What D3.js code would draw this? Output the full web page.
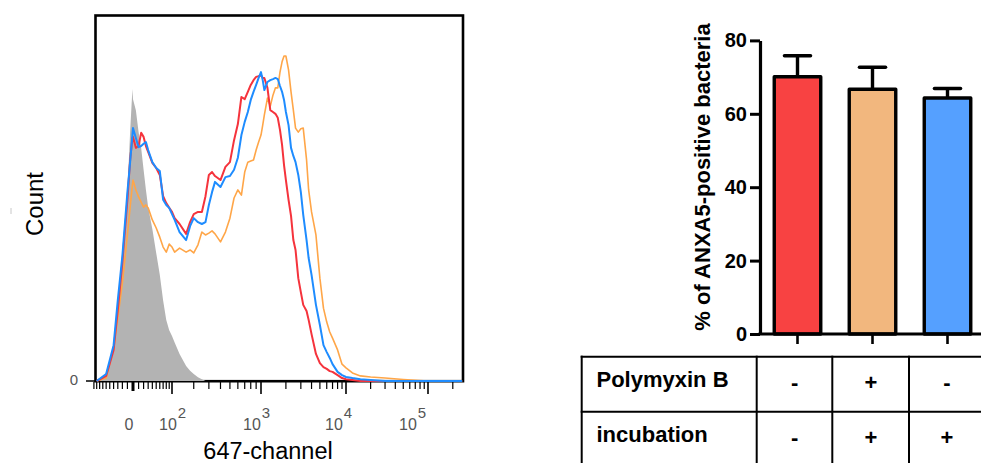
<!DOCTYPE html>
<html><head><meta charset="utf-8">
<script src="https://cdn.jsdelivr.net/npm/d3@7"></script>
<style>
body{margin:0;background:#fff}
svg{display:block}
text{font-family:"Liberation Sans",Arial,Helvetica,sans-serif}
</style>
</head><body>
<svg id="chart" width="981" height="463"></svg>
<script>
// ---------- DATA: flow cytometry histogram (647-channel) ----------
const fluor = [-90,-60,-40,-30,-20,-10,-5,-1,0,5,10,15,20,25,30,40,50,60,70,80,90,100,110,130,160,180,200,225,250,275,300,325,350,400,450,500,550,600,650,700,750,800,850,900,950,1000,1050,1100,1200,1300,1400,1500,1600,1700,1800,1900,2000,2150,2300,2450,2600,2800,3000,3200,3500,3700,4000,4500,5000,5500,6000,6500,7000,8000,9000,10000,12000,15000,20000,30000,50000,100000,200000,260000];
const grayCounts = [0,1.2,8,20,33,52,68,79.8,77,74,68,63.7,57.7,52.2,47.5,41.5,35,29,22,16.7,13.9,12.3,10.5,7.4,4.1,2.8,1.9,1.0,0.5,0,0,0,0,0,0,0,0,0,0,0,0,0,0,0,0,0,0,0,0,0,0,0,0,0,0,0,0,0,0,0,0,0,0,0,0,0,0,0,0,0,0,0,0,0,0,0,0,0,0,0,0,0,0,0];
const redCounts = [0,1.4,8.5,19.4,32.5,49.5,60.4,66.4,66.7,63.7,64.2,67.8,66.7,64.2,62.6,59.6,58.2,56.3,50.5,48.6,47.3,46.2,44.5,42.9,40.2,43.4,45.6,46.2,46.2,50.5,56.3,57.1,56.0,54.9,58.5,59.8,65.8,70.2,77.6,77.0,79.0,80.9,82.2,83.1,83.3,83.6,82.8,82.8,80.1,74.0,73.5,73.0,71.9,68.6,64.5,59.0,54.9,49.5,45.1,38.5,35.8,28.1,24.3,20.8,19.1,16.7,12.8,7.4,4.9,3.8,3.3,2.7,2.5,1.6,0.8,0.5,0.3,0,0,0,0,0,0,0];
const blueCounts = [0,1.9,9.8,22.1,34.2,51.6,59.8,67.2,69.1,66.4,63.9,64.2,64.8,65.3,63.1,59.8,58.2,57.4,49.5,48.1,47.3,45.6,44.0,40.7,38.5,42.3,44.5,43.4,42.9,43.4,48.1,51.6,54.4,53.0,55.7,56.0,57.7,61.0,67.2,70.8,73.5,76.8,79.0,80.9,82.8,84.4,82.2,79.5,81.7,82.2,82.5,82.8,82.5,80.6,79.0,76.8,73.5,69.9,63.7,61.5,59.8,56.3,51.6,45.4,38.5,33.6,29.0,20.8,15.3,9.8,7.9,6.3,4.6,2.5,1.6,1.1,0.8,0.5,0.3,0,0,0,0,0];
const orangeCounts = [0,0.8,9.0,17.2,26.8,39.9,47.5,53.6,54.9,52.2,50.3,48.9,47.5,48.1,47.3,44.0,41.8,39.3,36.6,35.2,37.4,36.6,35.2,36.3,35.2,35.8,35.0,37.2,40.7,39.9,40.4,41.0,40.2,38.0,40.7,44.5,50.0,52.2,50.8,57.1,59.8,60.1,60.4,63.1,65.3,67.2,69.9,72.7,77.3,75.1,78.1,80.1,80.1,84.4,87.2,88.8,88.8,85.0,79.0,74.0,69.1,68.0,68.9,69.1,60.4,52.2,46.2,39.9,28.1,19.9,16.1,13.4,11.7,8.5,4.6,3.6,2.2,1.4,1.1,0.8,0.4,0,0,0];
const majorTicks = [0,100,1000,10000,100000];
const majorLabels = [["0",""],["10","2"],["10","3"],["10","4"],["10","5"]];
const minorTicks = [-100,-90,-80,-70,-60,-50,-40,-30,-20,-10,10,20,30,40,50,60,70,80,90,200,300,400,500,600,700,800,900,2000,3000,4000,5000,6000,7000,8000,9000,20000,30000,40000,50000,60000,70000,80000,90000,200000];

// ---------- DATA: bar chart ----------
const conditions = ["PMB- inc-","PMB+ inc+","PMB- inc+"];
const percentPositive = [70.1,66.7,64.3];
const sdValues = [5.7,6.0,2.6];
const barColors = ["#f84242","#f2b77e","#55a0ff"];
const yTicksBar = [0,20,40,60,80];
const rowLabels = ["Polymyxin B","incubation"];
const polymyxinB = ["-","+","-"];
const incubation = ["-","+","+"];

const svg = d3.select("#chart");

// ================= LEFT: histogram =================
const sl = v => Math.sign(v)*Math.log1p(Math.abs(v)/85);
const xLin = d3.scaleLinear()
  .domain([-96,0,100,1000,1e4,1e5,266000].map(sl))
  .range([95,133,172,261,346,428,463]);
const x = v => xLin(sl(v));
const y = d3.scaleLinear().domain([0,100]).range([381,15]);

const L = svg.append("g");
// frame
L.append("rect").attr("x",95.5).attr("y",15.5).attr("width",367.5).attr("height",365.7)
  .attr("fill","none").attr("stroke","#000").attr("stroke-width",2.6);
// baseline tick at 0 on y
L.append("line").attr("x1",86).attr("x2",95).attr("y1",y(0)).attr("y2",y(0))
  .attr("stroke","#000").attr("stroke-width",1.5);
L.append("text").attr("x",78).attr("y",y(0)+4).attr("text-anchor","end")
  .attr("font-size",15).attr("fill","#555").text("0");

// gray filled
const grayData = fluor.map((f,i)=>[f,grayCounts[i]]);
L.append("path").datum(grayData)
  .attr("d", d3.area().x(d=>x(d[0])).y0(y(0)).y1(d=>y(d[1])))
  .attr("fill","#b3b3b3");

const line = d3.line().x(d=>x(d[0])).y(d=>y(d[1]));
const series = [
  {vals:orangeCounts,color:"#ffa648",w:1.6},
  {vals:redCounts,color:"#f5333c",w:2},
  {vals:blueCounts,color:"#1e8cff",w:2}
];
series.forEach(s=>{
  L.append("path").datum(fluor.map((f,i)=>[f,s.vals[i]]))
    .attr("d",line).attr("fill","none").attr("stroke",s.color)
    .attr("stroke-width",s.w).attr("stroke-linejoin","round");
});

// x axis ticks
L.selectAll("line.minor").data(minorTicks).enter().append("line")
  .attr("x1",d=>x(d)).attr("x2",d=>x(d)).attr("y1",382).attr("y2",389)
  .attr("stroke","#000").attr("stroke-width",1.2);
L.selectAll("line.major").data(majorTicks).enter().append("line")
  .attr("x1",d=>x(d)).attr("x2",d=>x(d)).attr("y1",382).attr("y2",d=>d===0?391:394)
  .attr("stroke","#000").attr("stroke-width",d=>d===0?3:1.6);
const labelDx = [-8.5,-13,-18,-21,-29];
majorTicks.forEach((t,i)=>{
  const tx = L.append("text").attr("x",x(t)+labelDx[i]).attr("y",430)
    .attr("font-size",16).attr("fill","#555");
  tx.append("tspan").text(majorLabels[i][0]);
  if(majorLabels[i][1]) tx.append("tspan").attr("dy",-12).attr("dx",1).attr("font-size",15).text(majorLabels[i][1]);
});
L.append("text").attr("x",268).attr("y",459).attr("text-anchor","middle")
  .attr("font-size",23.5).attr("fill","#000").text("647-channel");
L.append("text").attr("transform","translate(43,204) rotate(-90)").attr("text-anchor","middle")
  .attr("font-size",24).attr("fill","#000").text("Count");
L.append("line").attr("x1",11).attr("x2",11).attr("y1",208).attr("y2",214)
  .attr("stroke","#c8c8c8").attr("stroke-width",1);

// ================= RIGHT: bar chart =================
const R = svg.append("g");
const xb = d3.scaleBand().domain(conditions).range([760,985]).paddingInner(0.38).paddingOuter(0.19);
const yb = d3.scaleLinear().domain([0,80]).range([334,40.4]);

// error bars
conditions.forEach((c,i)=>{
  const cx = xb(c)+xb.bandwidth()/2;
  R.append("line").attr("x1",cx).attr("x2",cx).attr("y1",yb(percentPositive[i])).attr("y2",yb(percentPositive[i]+sdValues[i]))
    .attr("stroke","#000").attr("stroke-width",3.4);
  R.append("line").attr("x1",cx-13).attr("x2",cx+13).attr("y1",yb(percentPositive[i]+sdValues[i])).attr("y2",yb(percentPositive[i]+sdValues[i]))
    .attr("stroke","#000").attr("stroke-width",3.6).attr("stroke-linecap","round");
});
R.selectAll("rect.bar").data(conditions).enter().append("rect")
  .attr("x",d=>xb(d)).attr("width",xb.bandwidth())
  .attr("y",(d,i)=>yb(percentPositive[i])).attr("height",(d,i)=>yb(0)-yb(percentPositive[i]))
  .attr("fill",(d,i)=>barColors[i]).attr("stroke","#000").attr("stroke-width",3.4).attr("stroke-linejoin","round");

// y axis
const ya = R.append("g").attr("transform","translate(760,0)")
  .call(d3.axisLeft(yb).tickValues(yTicksBar).tickSize(10).tickSizeOuter(0).tickPadding(3));
ya.select(".domain").attr("stroke-width",3.2);
ya.selectAll(".tick line").attr("stroke-width",3);
ya.selectAll(".tick text").attr("font-size",20).attr("font-weight","bold").attr("fill","#000")
  .attr("font-family","Liberation Sans, Arial, sans-serif");
// x axis
R.append("line").attr("x1",758.5).attr("x2",981).attr("y1",334).attr("y2",334).attr("stroke","#000").attr("stroke-width",3.2);
R.selectAll("line.xt").data(conditions).enter().append("line")
  .attr("x1",d=>xb(d)+xb.bandwidth()/2).attr("x2",d=>xb(d)+xb.bandwidth()/2)
  .attr("y1",334).attr("y2",344).attr("stroke","#000").attr("stroke-width",2.6);
R.append("text").attr("transform","translate(710,177) rotate(-90)").attr("text-anchor","middle")
  .attr("font-size",22).attr("font-weight","bold").attr("fill","#000").text("% of ANXA5-positive bacteria");

// ================= table =================
const T = svg.append("g");
const xc = d3.scaleBand().domain(conditions).range([756.7,985]);
[356.7,411.7].forEach(yy=>T.append("line").attr("x1",580.7).attr("x2",981).attr("y1",yy).attr("y2",yy).attr("stroke","#000").attr("stroke-width",2));
[581.7,756.7,832.3,909].forEach(xx=>T.append("line").attr("x1",xx).attr("x2",xx).attr("y1",355.7).attr("y2",463).attr("stroke","#000").attr("stroke-width",2));
rowLabels.forEach((r,i)=>T.append("text").attr("x",596.5).attr("y",[386.7,441.7][i])
  .attr("font-size",22).attr("font-weight","bold").attr("fill","#000").text(r));
[polymyxinB,incubation].forEach((row,ri)=>{
  row.forEach((s,ci)=>{
    T.append("text").attr("x",xc(conditions[ci])+xc.bandwidth()/2).attr("y",[390,445][ri])
      .attr("text-anchor","middle").attr("font-size",22).attr("font-weight","bold").attr("fill","#000").text(s);
  });
});
</script>
</body></html>
